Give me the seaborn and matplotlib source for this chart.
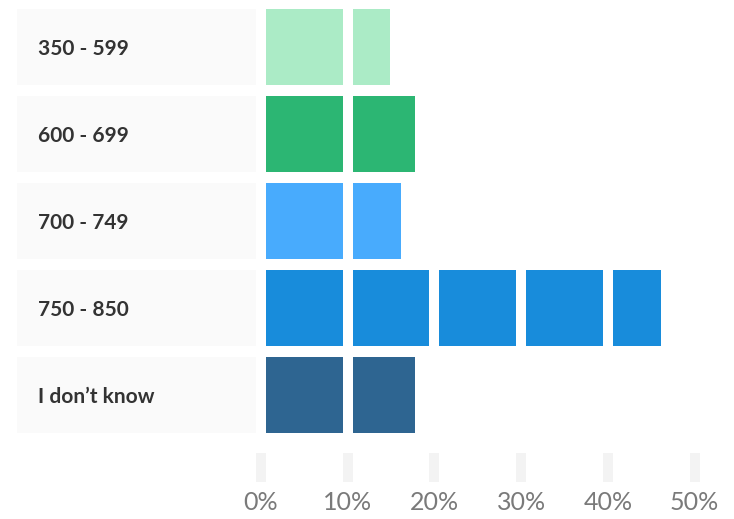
import matplotlib
matplotlib.use("Agg")
import matplotlib.pyplot as plt
import seaborn as sns
import pandas as pd

# Share of respondents per credit score band (%)
categories = ["350 - 599", "600 - 699", "700 - 749", "750 - 850", "I don\u2019t know"]
shares = [14.9, 17.8, 16.1, 46.1, 17.8]
colors = ["#abebc6", "#2cb673", "#48abfd", "#188cdb", "#2e6591"]
tick_values = [0, 10, 20, 30, 40, 50]
tick_labels = ["0%", "10%", "20%", "30%", "40%", "50%"]

sns.set_theme(style="white")
plt.rcParams["font.family"] = ["Lato", "DejaVu Sans"]

block = 10.0      # each square block stands for 10 percentage points
gap = 1.15        # white gap between blocks, in percentage points
bar_h = 0.874

# Split every share into 10-point blocks
rows = []
for i, (cat, val) in enumerate(zip(categories, shares)):
    k = 0
    while k * block < val:
        start = k * block + gap / 2
        end = min((k + 1) * block - gap / 2, val)
        rows.append({"row": i, "category": cat, "start": start, "width": end - start})
        k += 1
segments = pd.DataFrame(rows)

fig = plt.figure(figsize=(7.34, 5.19), dpi=100)
ax = fig.add_axes([0, 0, 1, 1])

# Label panels on the left
label_left = -28.14
for i, cat in enumerate(categories):
    ax.barh(i, -gap / 2 - label_left, left=label_left, height=bar_h,
            color="#fafafa", edgecolor="none")
    ax.text(label_left + 2.4, i + 0.02, cat, ha="left", va="center",
            fontsize=15, fontweight="bold", color="#333333")

# Blocks
for _, r in segments.iterrows():
    ax.barh(r["row"], r["width"], left=r["start"], height=bar_h,
            color=colors[int(r["row"])], edgecolor="none")

# Scale markers and labels
for v, lab in zip(tick_values, tick_labels):
    ax.bar(v, 0.333, bottom=4.667, width=gap, color="#f3f3f3", edgecolor="none")
    ax.text(v, 5.24, lab, ha="center", va="center", fontsize=18,
            fontweight="normal", color="#7a7a7a")

ax.set_xlim(-30.1, 54.55)
ax.set_ylim(5.425, -0.540)
ax.axis("off")

fig.savefig("out.png", dpi=100)
